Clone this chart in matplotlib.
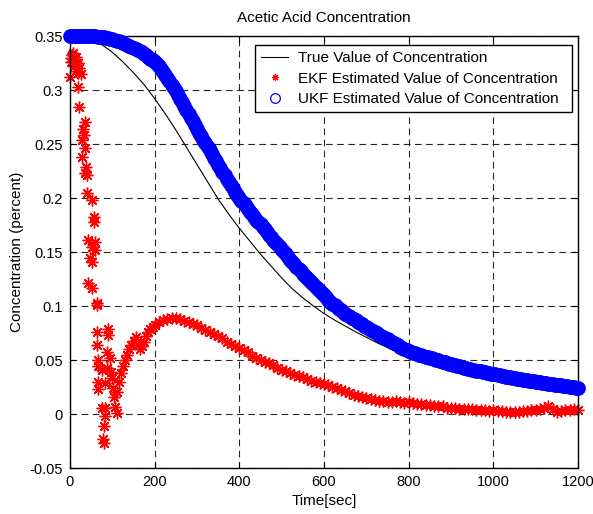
import matplotlib
matplotlib.use("Agg")
import matplotlib.pyplot as plt
from matplotlib.lines import Line2D

plt.rcParams['font.family'] = ['Liberation Sans', 'DejaVu Sans']

# True concentration (read every 25 s)
true_t = [0, 25, 50, 75, 100, 125, 150, 175, 200, 225, 250, 275, 300, 325, 350,
          375, 400, 425, 450, 475, 500, 525, 550, 575, 600, 625, 650, 675, 700,
          725, 750, 775, 800, 850, 900, 950, 1000, 1050, 1100, 1150, 1200]
true_c = [0.350, 0.350, 0.3475, 0.342, 0.335, 0.326, 0.316, 0.305, 0.292, 0.278,
          0.263, 0.247, 0.231, 0.215, 0.199, 0.185, 0.172, 0.160, 0.148, 0.137,
          0.126, 0.116, 0.1075, 0.100, 0.093, 0.087, 0.0815, 0.076, 0.071, 0.066,
          0.0615, 0.057, 0.053, 0.0465, 0.041, 0.037, 0.034, 0.031, 0.028, 0.025,
          0.023]

# UKF estimate (read every 5 s)
ukf_t = list(range(0, 1201, 5))
ukf_c = [
    0.350, 0.350, 0.350, 0.350, 0.350, 0.350, 0.350, 0.350, 0.350, 0.350,
    0.3500, 0.3499, 0.3497, 0.3495, 0.3493, 0.3490, 0.3487, 0.3484, 0.3480, 0.3475,
    0.3470, 0.3464, 0.3458, 0.3452, 0.3445, 0.3438, 0.3430, 0.3421, 0.3410, 0.3400,
    0.3390, 0.3380, 0.3370, 0.3360, 0.3350, 0.3335, 0.3320, 0.3305, 0.3290, 0.3275,
    0.3260, 0.3240, 0.3220, 0.3195, 0.3170, 0.3140, 0.3110, 0.3080, 0.3050, 0.3020,
    0.2990, 0.2955, 0.2920, 0.2885, 0.2850, 0.2815, 0.2780, 0.2745, 0.2710, 0.2675,
    0.2640, 0.2605, 0.2570, 0.2540, 0.2510, 0.2475, 0.2440, 0.2405, 0.2370, 0.2340,
    0.2310, 0.2275, 0.2240, 0.2210, 0.2180, 0.2150, 0.2120, 0.2090, 0.2060, 0.2030,
    0.2000, 0.1975, 0.1950, 0.1925, 0.1900, 0.1875, 0.1850, 0.1825, 0.1800, 0.1780,
    0.1760, 0.1735, 0.1710, 0.1685, 0.1660, 0.1635, 0.1610, 0.1590, 0.1570, 0.1545,
    0.1520, 0.1500, 0.1480, 0.1455, 0.1430, 0.1410, 0.1390, 0.1365, 0.1340, 0.1320,
    0.1300, 0.1280, 0.1260, 0.1240, 0.1220, 0.1200, 0.1180, 0.1160, 0.1140, 0.1120,
    0.1100, 0.1080, 0.1060, 0.1040, 0.1020, 0.1005, 0.0990, 0.0975, 0.0960, 0.0945,
    0.0930, 0.0918, 0.0905, 0.0893, 0.0880, 0.0868, 0.0855, 0.0843, 0.0830, 0.0818,
    0.0805, 0.0793, 0.0780, 0.0768, 0.0757, 0.0746, 0.0735, 0.0724, 0.0712, 0.0701,
    0.0690, 0.0679, 0.0668, 0.0657, 0.0646, 0.0635, 0.0624, 0.0613, 0.0602, 0.0591,
    0.0580, 0.0574, 0.0568, 0.0562, 0.0556, 0.0550, 0.0544, 0.0538, 0.0532, 0.0526,
    0.0520, 0.0514, 0.0508, 0.0502, 0.0496, 0.0490, 0.0484, 0.0478, 0.0472, 0.0466,
    0.0460, 0.0455, 0.0450, 0.0445, 0.0440, 0.0435, 0.0430, 0.0425, 0.0420, 0.0415,
    0.0410, 0.0406, 0.0402, 0.0398, 0.0394, 0.0390, 0.0386, 0.0382, 0.0378, 0.0374,
    0.0370, 0.0366, 0.0362, 0.0358, 0.0354, 0.0350, 0.0346, 0.0342, 0.0338, 0.0334,
    0.0330, 0.0327, 0.0324, 0.0321, 0.0318, 0.0315, 0.0312, 0.0309, 0.0306, 0.0303,
    0.0300, 0.0297, 0.0294, 0.0291, 0.0288, 0.0285, 0.0282, 0.0279, 0.0276, 0.0273,
    0.0270, 0.0267, 0.0264, 0.0261, 0.0258, 0.0255, 0.0252, 0.0249, 0.0246, 0.0243,
    0.0240]

# EKF estimate: scattered start, then the band
ekf_t = [0, 2, 5, 8, 10, 12, 15, 18, 20, 22, 3, 7, 13, 17, 25, 19, 21, 28, 30, 33,
         35, 35, 28, 38, 40, 35, 40, 52, 57, 57, 42, 59, 52, 59, 47, 52, 42, 52, 64,
         64, 64, 90, 90, 64, 87, 95, 66, 66, 76, 87, 97, 66, 83, 99, 66, 102, 104,
         76, 83, 106, 111, 83, 80, 78, 80,
         110, 115, 120, 125, 130, 135, 140, 145, 150, 155, 160, 165, 170, 175, 180,
         185, 190, 195, 200, 210, 220, 230, 240, 250, 260, 270, 280, 290, 300, 310,
         320, 330, 340, 350, 360, 370, 380, 390, 400, 410, 420, 430, 440, 450, 460,
         470, 480, 490, 500, 510, 520, 530, 540, 550, 560, 570, 580, 590, 600, 610,
         620, 630, 640, 650, 660, 670, 680, 690, 700, 710, 720, 730, 740, 750, 760,
         770, 780, 790, 800, 810, 820, 830, 840, 850, 860, 870, 880, 890, 900, 910,
         920, 930, 940, 950, 960, 970, 980, 990, 1000, 1010, 1020, 1030, 1040, 1050,
         1060, 1070, 1080, 1090, 1100, 1110, 1120, 1130, 1140, 1150, 1160, 1170,
         1180, 1190, 1200]
ekf_c = [0.312, 0.330, 0.332, 0.327, 0.322, 0.329, 0.318, 0.325, 0.316, 0.320,
         0.326, 0.334, 0.331, 0.323, 0.315,
         0.303, 0.284, 0.254, 0.264, 0.258, 0.270, 0.246, 0.238, 0.229, 0.221,
         0.223, 0.205, 0.198, 0.182, 0.178, 0.161, 0.159, 0.155, 0.152, 0.144,
         0.141, 0.121, 0.117, 0.103, 0.101, 0.076, 0.079, 0.073, 0.064, 0.057,
         0.052, 0.050, 0.044, 0.041, 0.043, 0.039, 0.030, 0.029, 0.033, 0.023,
         0.024, 0.016, 0.0056, 0.0056, 0.0065, 0.001, -0.002, -0.011, -0.023, -0.027,
         0.020, 0.030, 0.038, 0.044, 0.050, 0.055, 0.060, 0.064, 0.068, 0.071,
         0.064, 0.060, 0.063, 0.067, 0.072, 0.076, 0.079, 0.081, 0.082, 0.085,
         0.087, 0.088, 0.089, 0.089, 0.088, 0.086, 0.085, 0.083, 0.082, 0.080,
         0.078, 0.076, 0.074, 0.072, 0.070, 0.067, 0.065, 0.063, 0.061, 0.059,
         0.057, 0.054, 0.052, 0.050, 0.048, 0.047, 0.045, 0.043, 0.041, 0.040,
         0.038, 0.036, 0.035, 0.034, 0.032, 0.031, 0.030, 0.029, 0.028, 0.027,
         0.025, 0.024, 0.022, 0.021, 0.019, 0.018, 0.017, 0.016, 0.015, 0.014,
         0.013, 0.012, 0.012, 0.011, 0.011, 0.012, 0.011, 0.010, 0.011, 0.010,
         0.009, 0.009, 0.008, 0.008, 0.007, 0.007, 0.007, 0.006, 0.006, 0.006,
         0.005, 0.005, 0.005, 0.005, 0.004, 0.004, 0.004, 0.003, 0.004, 0.003,
         0.003, 0.002, 0.002, 0.002, 0.002, 0.003, 0.003, 0.004, 0.004, 0.005,
         0.006, 0.007, 0.005, 0.002, 0.003, 0.004, 0.004, 0.005, 0.004]

xticks = [0, 200, 400, 600, 800, 1000, 1200]
yticks = [-0.05, 0, 0.05, 0.1, 0.15, 0.2, 0.25, 0.3, 0.35]
ytick_labels = ['-0.05', '0', '0.05', '0.1', '0.15', '0.2', '0.25', '0.3', '0.35']

fig = plt.figure(figsize=(5.93, 5.14), dpi=100)
ax = fig.add_axes([70 / 593, 1 - 468 / 514, 508 / 593, 432 / 514])

ax.plot(true_t, true_c, color='k', lw=0.8, zorder=3)
ax.plot(ekf_t, ekf_c, ls='none', marker=(8, 2, 0), ms=8.5, mew=1.0,
        color='r', clip_on=False, zorder=2)
ax.plot(ukf_t, ukf_c, ls='none', marker='o', ms=7.4, mew=3.2,
        mfc='none', mec='b', clip_on=False, zorder=4)

ax.set_xlim(0, 1200)
ax.set_ylim(-0.05, 0.35)
ax.set_xticks(xticks)
ax.set_yticks(yticks)
ax.set_yticklabels(ytick_labels)
ax.tick_params(direction='in', length=4, top=True, right=True, labelsize=10.5, pad=5)
ax.grid(True, color='0.15', ls=(0, (6, 4)), lw=0.8)
for s in ax.spines.values():
    s.set_linewidth(1.0)

ax.set_title('Acetic Acid Concentration', fontsize=11, pad=10)
ax.set_xlabel('Time[sec]', fontsize=11, labelpad=4)
ax.set_ylabel('Concentration (percent)', fontsize=11, labelpad=4)

handles = [
    Line2D([], [], color='k', lw=0.8),
    Line2D([], [], ls='none', marker=(8, 2, 0), ms=5, mew=0.8, color='r'),
    Line2D([], [], ls='none', marker='o', ms=7, mew=0.9, mfc='none', mec='b'),
]
labels = ['True Value of Concentration',
          'EKF Estimated Value of Concentration  ',
          'UKF Estimated Value of Concentration']
leg = ax.legend(handles, labels, loc='upper right',
                bbox_to_anchor=((572 - 70) / 508, 1 - (45 - 36) / 432),
                borderaxespad=0, fontsize=11, fancybox=False,
                framealpha=1, edgecolor='k', handlelength=1.8, handletextpad=0.6,
                labelspacing=0.42, borderpad=0.4)
leg.get_frame().set_linewidth(1.0)
leg.set_zorder(10)

fig.savefig('out.png', dpi=100)
